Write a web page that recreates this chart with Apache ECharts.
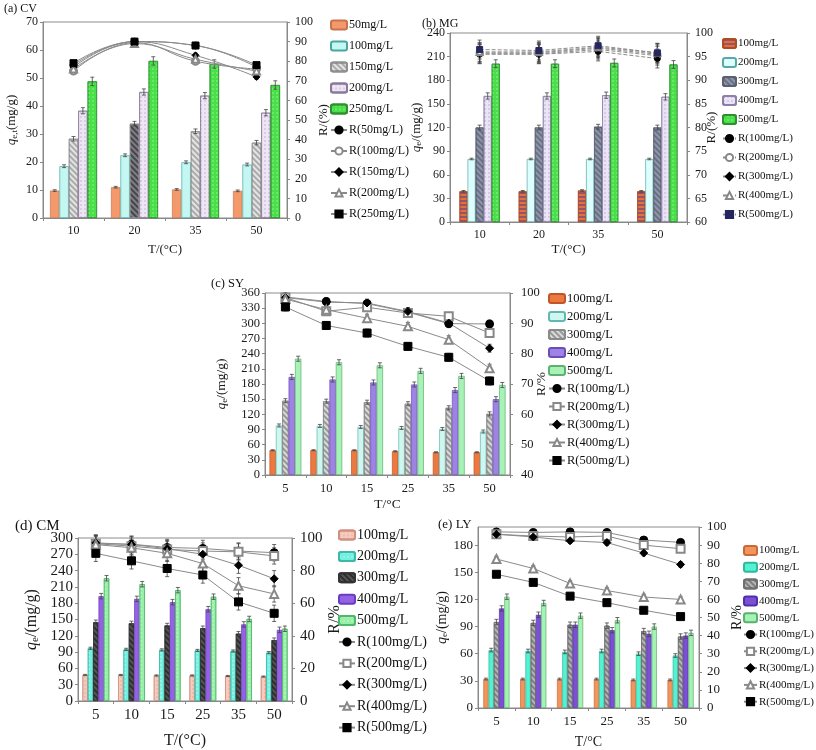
<!DOCTYPE html>
<html><head><meta charset="utf-8">
<script src="https://cdn.jsdelivr.net/npm/echarts@6/dist/echarts.min.js"></script>
<style>html,body{margin:0;padding:0;background:#fff}#c{width:816px;height:750px}</style>
</head><body><div id="c"></div><script>
const FONT = "'Liberation Serif','Times New Roman',serif";

// ---------- (a) CV ----------
const catsA = ['10','20','35','50'];
const barNamesA = ['50mg/L','100mg/L','150mg/L','200mg/L','250mg/L'];
const lineNamesA = ['R(50mg/L)','R(100mg/L)','R(150mg/L)','R(200mg/L)','R(250mg/L)'];
const qA = [[9.8,11.0,10.2,9.7],[18.5,22.4,19.9,19.1],[28.3,33.7,31.0,26.9],[38.3,45.0,43.7,37.6],[48.8,56.1,55.0,47.5]];
const rA = [[78,90,88,77],[75,89.5,80,76],[77,90,83,72],[76,89,81,75],[79,90,88,78]];
const qErrA = [0.3,0.5,0.8,1.1,1.5];
const rErrA = [1.2,1.2,1.2,1.2,1.2];

// ---------- (b) MG ----------
const catsB = ['10','20','35','50'];
const barNamesB = ['100mg/L','200mg/L','300mg/L','400mg/L','500mg/L'];
const lineNamesB = ['R(100mg/L)','R(200mg/L)','R(300mg/L)','R(400mg/L)','R(500mg/L)'];
const qB = [[39,39,40,39],[80,80,80,80],[120,120,121,120],[160,160,161,159],[201,201,202,200]];
const rB = [[95.5,95.5,96.1,94.6],[95.8,95.8,96.8,95.5],[95.6,95.6,96.5,95.2],[96.0,96.0,97.0,95.8],[96.5,96.3,97.3,95.8]];
const qErrB = [1,1,3,4,5];
const rErrB = [2,2,2,2,2];

// ---------- (c) SY ----------
const catsC = ['5','10','15','25','35','50'];
const barNamesC = ['100mg/L','200mg/L','300mg/L','400mg/L','500mg/L'];
const lineNamesC = ['R(100mg/L)','R(200mg/L)','R(300mg/L)','R(400mg/L)','R(500mg/L)'];
const qC = [[49,49,49,47,45,45],[98,97,95,93,91,86],[147,146,144,141,133,121],[194,189,183,179,168,150],[230,223,217,206,196,178]];
const rC = [[98.7,97.2,96.5,93.7,89.9,89.8],[98.5,94.0,95.3,93.4,92.3,86.8],[98.5,97.0,96.7,93.9,90.1,81.8],[98.0,94.5,91.7,89.0,84.6,75.2],[95.4,89.3,86.8,82.4,78.8,71.0]];
const qErrC = [1,3,4,5,5];
const rErrC = [1.3,1.3,1.3,1.3,1.3];

// ---------- (d) CM ----------
const catsD = ['5','10','15','25','35','50'];
const barNamesD = ['100mg/L','200mg/L','300mg/L','400mg/L','500mg/L'];
const lineNamesD = ['R(100mg/L)','R(200mg/L)','R(300mg/L)','R(400mg/L)','R(500mg/L)'];
const qD = [[48,48,47,47,46,45],[97,95,94,93,92,89],[145,143,139,134,124,112],[193,188,182,169,141,131],[226,215,204,192,151,133]];
const rD = [[96.6,96.2,94.2,93.6,92.0,91.0],[96.5,95.0,93.0,92.0,91.5,89.0],[97.0,96.0,93.5,90.0,83.3,75.0],[96.0,94.0,90.6,84.3,70.7,65.7],[90.6,86.0,81.3,77.3,60.8,53.8]];
const qErrD = [1,2,4,5,5];
const rErrD = [5,5,5,5,5];

// ---------- (e) LY ----------
const catsE = ['5','10','15','25','35','50'];
const barNamesE = ['100mg/L','200mg/L','300mg/L','400mg/L','500mg/L'];
const lineNamesE = ['R(100mg/L)','R(200mg/L)','R(300mg/L)','R(400mg/L)','R(500mg/L)'];
const qE = [[32,32,32,32,31,31],[64,63,62,63,60,58],[95,94,92,91,85,79],[110,103,92,86,82,80],[123,116,102,97,90,83]];
const rE = [[97.3,97.0,97.3,97.0,92.8,91.5],[96.0,95.0,94.5,95.0,90.0,88.0],[96.0,94.5,92.4,91.4,85.6,79.3],[82.3,77.1,68.8,64.9,61.3,60.0],[73.9,69.4,61.8,58.2,54.0,50.5]];
const qErrE = [1,2,3,3,3];
const rErrE = [1.5,1.5,1.5,1.5,1.5];

// ---------- styles ----------
const hatch = c => ({symbol:'rect', symbolSize:1, dashArrayX:[1,0], dashArrayY:[1.5,2], rotation:Math.PI/4, color:c});
const dots = c => ({symbol:'circle', symbolSize:0.7, dashArrayX:[2,2], dashArrayY:[2,2], color:c});
const stripes = c => ({symbol:'rect', symbolSize:1, dashArrayX:[1,0], dashArrayY:[1.5,2], rotation:0, color:c});

const panels = [
  {id:'a', title:'(a) CV', titlePos:[4,3], cats:catsA, bars:barNamesA, lines:lineNamesA, q:qA, r:rA, qErr:qErrA, rErr:rErrA,
   grid:{left:43,top:22,width:244,height:196}, yLmax:70, yLint:10, yRmin:0, yRint:10, font:12, gap:0.23, rMargin:8,
   yName:'{i|q}{s|e,t}{n|(mg/g)}', yNameGap:24, rName:'R/(%)', rNameGap:19, rMove:true, xName:'T/(°C)', xNameGap:25,
   colors:['#F4996C','#C4F7F2','#E4E4E4','#EEE6F4','#47E047'],
   borders:['#C8734E','#4AA7A0','#909090','#8A7A9A','#2F8F2F'],
   decals:[null,null,hatch('rgba(0,0,0,0.25)'),dots('rgba(120,80,150,0.45)'),dots('rgba(255,255,255,0.6)')],
   special:{series:2, cat:1, color:'#7E7E86'},
   symbols:['circle','emptyCircle','diamond','emptyTriangle','rect'], symColors:['#000','#888','#000','#888','#000'], symSize:7,
   smooth:true, dashed:false, leg:{left:330,top:19,gap:9,font:12,iw:16}},
  {id:'b', title:'(b) MG', titlePos:[422,18], cats:catsB, bars:barNamesB, lines:lineNamesB, q:qB, r:rB, qErr:qErrB, rErr:rErrB,
   grid:{left:450,top:33,width:237,height:189}, yLmax:240, yLint:30, yRmin:60, yRint:5, font:12, gap:0.32, rMargin:8,
   yName:'{i|q}{s|e}{n|/(mg/g)}', yNameGap:18, rName:'R/(%)', rNameGap:18, rMove:false, xName:'T/(°C)', xNameGap:21,
   colors:['#E2703C','#DCFFFE','#8E97AA','#ECE4F6','#47E047'],
   borders:['#B04A20','#5AA8A8','#5A6070','#8C80A8','#2F8F2F'],
   decals:[stripes('rgba(90,60,140,0.55)'),null,hatch('rgba(40,40,60,0.35)'),dots('rgba(110,90,170,0.5)'),dots('rgba(255,255,255,0.6)')],
   symbols:['circle','emptyCircle','diamond','emptyTriangle','rect'], symColors:['#000','#888','#000','#888','#26265e'], symSize:6,
   smooth:false, dashed:true, leg:{left:722,top:38,gap:8,font:11,iw:13}},
  {id:'c', title:'(c) SY', titlePos:[211,277], cats:catsC, bars:barNamesC, lines:lineNamesC, q:qC, r:rC, qErr:qErrC, rErr:rErrC,
   grid:{left:265,top:293,width:245,height:182}, yLmax:360, yLint:30, yRmin:40, yRint:10, font:12.5, gap:0.22, rMargin:11,
   yName:'{i|q}{s|e}{n|/(mg/g)}', yNameGap:36, rName:'R/%', rNameGap:24, rMove:false, xName:'T/°C', xNameGap:22,
   colors:['#EC7A40','#CFF7F0','#DADADA','#9E82E4','#A8F2B8'],
   borders:['#C0552A','#62B8AE','#8A8A8A','#6A4EB8','#5CB070'],
   decals:[null,null,hatch('rgba(0,0,0,0.3)'),null,null],
   symbols:['circle','emptyRect','diamond','emptyTriangle','rect'], symColors:['#000','#888','#000','#888','#000'], symSize:8,
   smooth:false, dashed:false, leg:{left:548,top:292,gap:5,font:12.5,iw:16}},
  {id:'d', title:'(d) CM', titlePos:[15,519], cats:catsD, bars:barNamesD, lines:lineNamesD, q:qD, r:rD, qErr:qErrD, rErr:rErrD,
   grid:{left:78,top:538,width:214,height:167}, yLmax:300, yLint:30, yRmin:0, yRint:20, font:15, gap:0.25, rMargin:8,
   yName:'{i|q}{s|e}{n|/(mg/g)}', yNameGap:37, rName:'R/%', rNameGap:21, rMove:true, xName:'T/(°C)', xNameGap:32,
   colors:['#F6CBBE','#74F0E0','#555555','#9462E4','#98F0A8'],
   borders:['#D09080','#40B8A8','#333333','#6A3CC0','#50B868'],
   decals:[dots('rgba(200,120,100,0.5)'),dots('rgba(255,255,255,0.6)'),hatch('rgba(0,0,0,0.45)'),null,dots('rgba(255,255,255,0.6)')],
   symbols:['circle','emptyRect','diamond','emptyTriangle','rect'], symColors:['#000','#888','#000','#888','#000'], symSize:8,
   smooth:false, dashed:false, leg:{left:338,top:528,gap:7.4,font:14,iw:16}},
  {id:'e', title:'(e) LY', titlePos:[438,518], cats:catsE, bars:barNamesE, lines:lineNamesE, q:qE, r:rE, qErr:qErrE, rErr:rErrE,
   grid:{left:478,top:527,width:221,height:185}, yLmax:200, yLint:30, yRmin:0, yRint:10, font:13, gap:0.29, hideMax:true, rMargin:8,
   yName:'{i|q}{s|e}{n|/(mg/g)}', yNameGap:28, rName:'R/%', rNameGap:20, rMove:true, xName:'T/°C', xNameGap:27,
   colors:['#F2955C','#52F2D2','#B6B6B6','#7C50D4','#A4F2B4'],
   borders:['#C86A38','#30B89A','#707070','#5030A8','#5CB070'],
   decals:[null,null,hatch('rgba(0,0,0,0.3)'),null,null],
   symbols:['circle','emptyRect','diamond','emptyTriangle','rect'], symColors:['#000','#888','#000','#888','#000'], symSize:8,
   smooth:false, dashed:false, leg:{left:743,top:545,gap:5.8,font:11,iw:13}}
];

const opt = {animation:false, backgroundColor:'#fff', grid:[], xAxis:[], yAxis:[], series:[], legend:[], graphic:[]};

function errBars(xi, yi, vals, err, idx, n, gapFrac) {
  return {
    type:'custom', xAxisIndex:xi, yAxisIndex:yi, silent:true, z:6,
    encode:{x:0, y:[1,2]},
    data: vals.map((v,c)=>[c, v-err, v+err]),
    renderItem:(params, api)=>{
      const band = api.size([1,0])[0];
      let off = 0;
      if (idx !== null) { const bw = band*(1-gapFrac)/n; off = -band*(1-gapFrac)/2 + (idx+0.5)*bw; }
      const lo = api.coord([api.value(0), api.value(1)]);
      const hi = api.coord([api.value(0), api.value(2)]);
      const x = lo[0] + off, cap = 2;
      const st = {stroke:'#444', lineWidth:0.8};
      return {type:'group', children:[
        {type:'line', shape:{x1:x,y1:lo[1],x2:x,y2:hi[1]}, style:st},
        {type:'line', shape:{x1:x-cap,y1:lo[1],x2:x+cap,y2:lo[1]}, style:st},
        {type:'line', shape:{x1:x-cap,y1:hi[1],x2:x+cap,y2:hi[1]}, style:st}
      ]};
    }
  };
}

panels.forEach((P,k)=>{
  opt.grid.push(Object.assign({show:true, borderColor:'#8c8c8c', borderWidth:1}, P.grid));
  const lab = {fontFamily:FONT, fontSize:P.font, color:'#1a1a1a'};
  const xi = opt.xAxis.length;
  opt.xAxis.push({type:'category', gridIndex:k, data:P.cats, boundaryGap:true,
    name:P.xName, nameLocation:'middle', nameGap:P.xNameGap, nameTextStyle:Object.assign({}, lab, {fontSize:P.font+1}),
    axisLine:{lineStyle:{color:'#888'}}, axisTick:{show:true, length:3, lineStyle:{color:'#888'}},
    axisLabel:Object.assign({margin:7}, lab)});
  const yl = opt.yAxis.length;
  const sub = Math.round(P.font*0.72);
  opt.yAxis.push({type:'value', gridIndex:k, position:'left', min:0, max:P.yLmax, interval:P.yLint,
    splitLine:{show:false}, axisLine:{show:true, lineStyle:{color:'#888'}}, axisTick:{show:true, length:3, lineStyle:{color:'#888'}},
    axisLabel:Object.assign({margin:5, showMaxLabel:!P.hideMax}, lab),
    name:P.yName, nameLocation:'middle', nameRotate:90, nameGap:P.yNameGap,
    nameTextStyle:{fontFamily:FONT, fontSize:P.font+1, color:'#1a1a1a', rich:{
      i:{fontFamily:FONT, fontStyle:'italic', fontSize:P.font+1, color:'#1a1a1a'},
      s:{fontFamily:FONT, fontSize:sub, color:'#1a1a1a', verticalAlign:'bottom', padding:[Math.round(P.font*0.45),0,0,0]},
      n:{fontFamily:FONT, fontSize:P.font+1, color:'#1a1a1a'}}}});
  const yr = opt.yAxis.length;
  opt.yAxis.push({type:'value', gridIndex:k, position:'right', min:P.yRmin, max:100, interval:P.yRint,
    splitLine:{show:false}, axisLine:{show:true, lineStyle:{color:'#888'}}, axisTick:{show:true, length:3, lineStyle:{color:'#888'}},
    axisLabel:Object.assign({margin:P.rMargin}, lab),
    name:P.rName, nameLocation:'middle', nameRotate:90, nameGap:P.rNameGap, nameMoveOverlap:P.rMove,
    nameTextStyle:Object.assign({}, lab, {fontSize:P.font+1})});
  const n = P.bars.length;
  P.bars.forEach((nm,i)=>{
    const st = {color:P.colors[i], borderColor:P.borders[i], borderWidth:0.7};
    if (P.decals[i]) st.decal = P.decals[i];
    const data = P.q[i].map((v,c)=> (P.special && P.special.series===i && P.special.cat===c)
        ? {value:v, itemStyle:{color:P.special.color, decal:hatch('rgba(0,0,0,0.45)')}} : v);
    opt.series.push({type:'bar', name:nm+'|'+P.id, xAxisIndex:xi, yAxisIndex:yl, data:data,
      barGap:'0%', barCategoryGap:(P.gap*100)+'%', itemStyle:st, z:2});
  });
  P.bars.forEach((nm,i)=>opt.series.push(errBars(xi, yl, P.q[i], P.qErr[i], i, n, P.gap)));
  P.lines.forEach((nm,i)=>{
    opt.series.push({type:'line', name:nm+'|'+P.id, xAxisIndex:xi, yAxisIndex:yr, data:P.r[i],
      smooth:P.smooth?0.45:false, symbol:P.symbols[i], symbolSize:P.symSize,
      lineStyle:{color:'#8a8a8a', width:1, type:P.dashed?'dashed':'solid'},
      itemStyle:{color:P.symColors[i], borderColor:P.symColors[i], borderWidth:1}, z:7});
  });
  P.lines.forEach((nm,i)=>opt.series.push(errBars(xi, yr, P.r[i], P.rErr[i], null, n, P.gap)));
  opt.legend.push({orient:'vertical', left:P.leg.left, top:P.leg.top, padding:0, itemGap:P.leg.gap, itemWidth:P.leg.iw, itemHeight:9,
    selectedMode:false, data:P.bars.concat(P.lines).map(s=>s+'|'+P.id), formatter:s=>s.split('|')[0],
    textStyle:{fontFamily:FONT, fontSize:P.leg.font, color:'#111', padding:[0,0,0,-3]}});
  opt.graphic.push({type:'text', left:P.titlePos[0], top:P.titlePos[1],
    style:{text:P.title, font:`${P.font}px ${FONT}`, fill:'#111'}});
});

const chart = echarts.init(document.getElementById('c'), null, {renderer:'canvas'});
chart.setOption(opt);
</script></body></html>
